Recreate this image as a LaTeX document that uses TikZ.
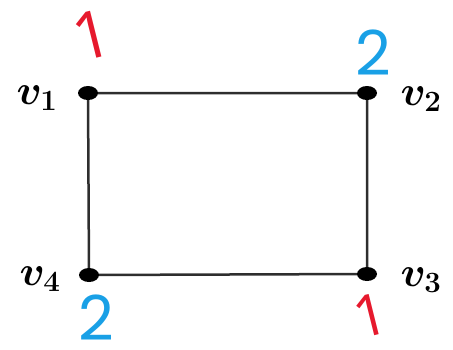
\documentclass[tikz,border=0pt]{standalone}
\usepackage{fix-cm}
\usepackage{fontspec}
\usetikzlibrary{shapes.geometric}
\newfontfamily\hand{Open Sans}
\newfontfamily\handtwo{Poppins}
\definecolor{markred}{RGB}{230,25,45}
\definecolor{markblue}{RGB}{25,160,230}
\begin{document}
\begin{tikzpicture}[x=1pt,y=-1pt,
  vert/.style={ellipse,fill=black,inner sep=0pt,minimum width=20pt,minimum height=14pt},
  edge/.style={line width=2.5pt,draw=black!82},
  vlabel/.style={font=\mathversion{bold}\fontsize{42}{44}\selectfont,inner sep=0pt},
  redmark/.style={text=markred,font=\hand\fontsize{66}{68}\selectfont,inner sep=0pt,rotate=14},
  bluemark/.style={text=markblue,font=\handtwo\fontsize{62}{64}\selectfont,inner sep=0pt}]
\useasboundingbox (0,0) rectangle (453,349);
\coordinate (c1) at (88,93);
\coordinate (c2) at (367,93);
\coordinate (c3) at (367,274);
\coordinate (c4) at (89,275);
\draw[edge] (c1) -- (c2) -- (c3) -- (c4) -- cycle;
\node[vert] (v1) at (c1) {};
\node[vert] (v2) at (c2) {};
\node[vert] (v3) at (c3) {};
\node[vert] (v4) at (c4) {};
\node[vlabel] (l1) at (37,98) {$v_1$};
\node[vlabel] (l2) at (421,99) {$v_2$};
\node[vlabel] (l3) at (421,280) {$v_3$};
\node[vlabel] (l4) at (40,279) {$v_4$};
\node[redmark] (r1) at (92,35) {1};
\node[redmark,font=\hand\fontsize{58}{60}\selectfont] (r3) at (371,315) {1};
\node[bluemark] (b2) at (373,53) {2};
\node[bluemark] (b4) at (96,318) {2};
\end{tikzpicture}
\end{document}
